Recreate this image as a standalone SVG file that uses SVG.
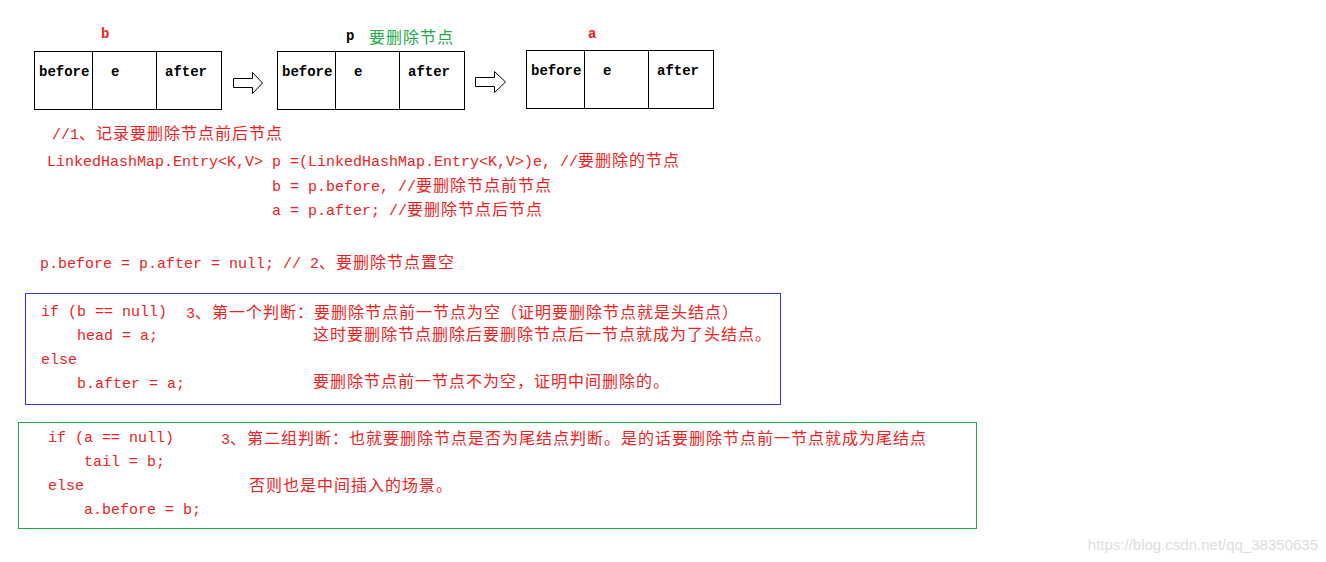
<svg xmlns="http://www.w3.org/2000/svg" width="1326" height="562" viewBox="0 0 1326 562">
<style>
.bx{fill:#fff;stroke:#000;stroke-width:1}
.ln{stroke:#000;stroke-width:1}
.fl{font-family:"Liberation Mono","Noto Sans CJK SC",monospace;font-size:14px;font-weight:bold;fill:#000}
.c{font-family:"Liberation Mono","Noto Sans CJK SC",monospace;font-size:15px;fill:#ee2222}
.z{font-size:16px;letter-spacing:1px}
.arr{fill:#fff;stroke:#000;stroke-width:1}
</style>
<rect width="1326" height="562" fill="#fff"/>
<g id="node-b">
<rect class="bx" x="34.5" y="51.5" width="187" height="58"/>
<line class="ln" x1="92.5" y1="51" x2="92.5" y2="109"/><line class="ln" x1="156.5" y1="51" x2="156.5" y2="109"/>
<text class="fl" x="39" y="76">before</text><text class="fl" x="111" y="76">e</text><text class="fl" x="165" y="76">after</text>
<text x="101" y="38" font-family="Liberation Mono,monospace" font-size="14" font-weight="bold" fill="#ee2222">b</text>
</g>
<g id="node-p">
<rect class="bx" x="277.5" y="51.5" width="187" height="58"/>
<line class="ln" x1="335.5" y1="51" x2="335.5" y2="109"/><line class="ln" x1="399.5" y1="51" x2="399.5" y2="109"/>
<text class="fl" x="282" y="76">before</text><text class="fl" x="354" y="76">e</text><text class="fl" x="408" y="76">after</text>
<text x="346" y="40" font-family="Liberation Mono,monospace" font-size="14" font-weight="bold" fill="#000">p</text>
<text x="369" y="43" font-family="Noto Sans CJK SC,sans-serif" font-size="16" letter-spacing="1" fill="#22aa44">要删除节点</text>
</g>
<g id="node-a">
<rect class="bx" x="526.5" y="50.5" width="187" height="58"/>
<line class="ln" x1="584.5" y1="50" x2="584.5" y2="108"/><line class="ln" x1="648.5" y1="50" x2="648.5" y2="108"/>
<text class="fl" x="531" y="75">before</text><text class="fl" x="603" y="75">e</text><text class="fl" x="657" y="75">after</text>
<text x="588" y="38" font-family="Liberation Mono,monospace" font-size="14" font-weight="bold" fill="#ee2222">a</text>
</g>
<g id="connectors">
<polygon class="arr" points="233.5,78.5 252.5,78.5 252.5,72.5 262.5,83 252.5,93.5 252.5,87.5 233.5,87.5"/>
<polygon class="arr" points="475.5,77.5 494.5,77.5 494.5,71.5 505.5,82 494.5,92.5 494.5,86.5 475.5,86.5"/>
</g>
<g id="code1">
<text class="c" x="52" y="139">//1<tspan class="z">、记录要删除节点前后节点</tspan></text>
<text class="c" x="47" y="166">LinkedHashMap.Entry&lt;K,V&gt; p =(LinkedHashMap.Entry&lt;K,V&gt;)e, //<tspan class="z">要删除的节点</tspan></text>
<text class="c" x="272" y="191">b = p.before, //<tspan class="z">要删除节点前节点</tspan></text>
<text class="c" x="272" y="215">a = p.after;  //<tspan class="z">要删除节点后节点</tspan></text>
<text class="c" x="40" y="268">p.before = p.after = null; // 2<tspan class="z">、要删除节点置空</tspan></text>
</g>
<g id="block-b">
<rect x="25.5" y="293.5" width="755" height="111" fill="none" stroke="#3333ee"/>
<text class="c" x="41" y="316">if (b == null)</text>
<text class="c" x="186" y="318">3<tspan class="z">、第一个判断：要删除节点前一节点为空（证明要删除节点就是头结点）</tspan></text>
<text class="c" x="77" y="340">head = a;</text>
<text class="c" x="313" y="340"><tspan class="z">这时要删除节点删除后要删除节点后一节点就成为了头结点。</tspan></text>
<text class="c" x="41" y="364">else</text>
<text class="c" x="77" y="388">b.after = a;</text>
<text class="c" x="313" y="387"><tspan class="z">要删除节点前一节点不为空，证明中间删除的。</tspan></text>
</g>
<g id="block-a">
<rect x="18.5" y="422.5" width="958" height="106" fill="none" stroke="#22aa44"/>
<text class="c" x="48" y="442">if (a == null)</text>
<text class="c" x="221" y="444">3<tspan class="z">、第二组判断：也就要删除节点是否为尾结点判断。是的话要删除节点前一节点就成为尾结点</tspan></text>
<text class="c" x="84" y="466">tail = b;</text>
<text class="c" x="48" y="490">else</text>
<text class="c" x="249" y="491"><tspan class="z">否则也是中间插入的场景。</tspan></text>
<text class="c" x="84" y="514">a.before = b;</text>
</g>
<text x="1318" y="550" text-anchor="end" font-family="Liberation Sans,sans-serif" font-size="15" fill="#dddddd">https://blog.csdn.net/qq_38350635</text>
</svg>
